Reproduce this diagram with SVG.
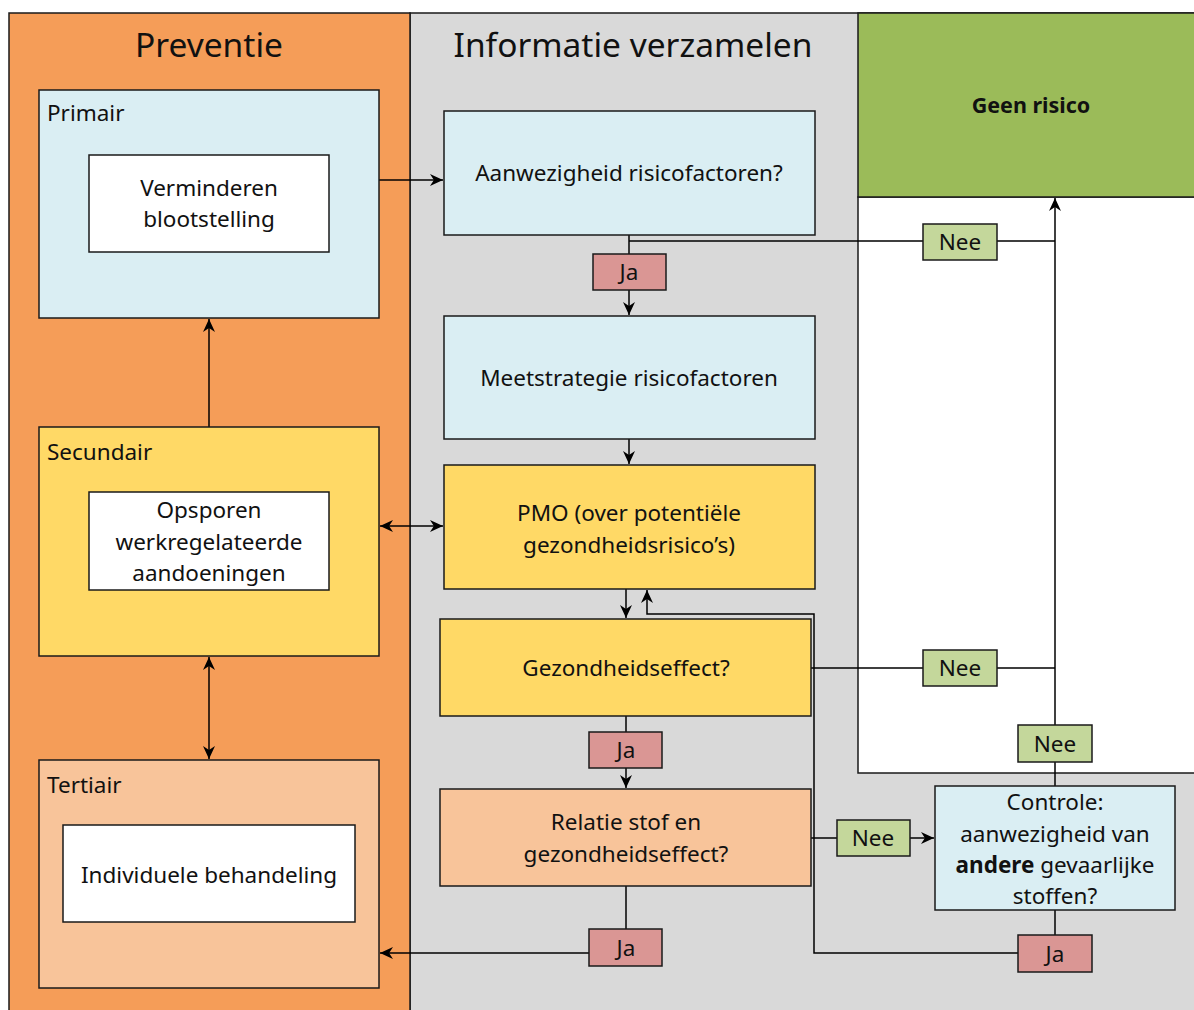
<svg xmlns="http://www.w3.org/2000/svg" width="1194" height="1010" viewBox="0 0 1194 1010">
<defs>
<marker id="ah" viewBox="0 0 10 10" refX="10" refY="5" markerWidth="13" markerHeight="12" markerUnits="userSpaceOnUse" orient="auto-start-reverse" preserveAspectRatio="none">
<path d="M0,0 L10,5 L0,10 L3,5 Z" fill="#000"/>
</marker>
<style>
text{font-family:"Noto Sans","Open Sans",sans-serif;fill:#111;text-anchor:middle;}
.box{stroke:#1a1a1a;stroke-width:1.5;}
.blue{fill:#DAEEF3;}
.yel{fill:#FFD966;}
.peach{fill:#F8C49A;}
.white{fill:#fff;}
.nee{fill:#C4D79B;stroke:#1a1a1a;stroke-width:1.5;}
.ja{fill:#DA9694;stroke:#1a1a1a;stroke-width:1.5;}
.t{font-size:22.5px;}
.lbl{font-size:22.5px;text-anchor:start;}
.title{font-size:33.5px;}
.con{fill:none;stroke:#000;stroke-width:1.5;}
.arr{marker-end:url(#ah);}
.both{marker-start:url(#ah);marker-end:url(#ah);}
</style>
</defs>
<rect x="0" y="0" width="1194" height="1010" fill="#fff"/>
<g id="lanes">
<rect x="410" y="13" width="800" height="1010" fill="#D9D9D9" stroke="#1a1a1a" stroke-width="1.5"/>
<rect x="9" y="13" width="401" height="1010" fill="#F59D58" stroke="#1a1a1a" stroke-width="1.5"/>
<rect x="858" y="197" width="350" height="576" fill="#fff" stroke="#1a1a1a" stroke-width="1.5"/>
<text class="title" x="209" y="57">Preventie</text>
<text class="title" x="633" y="57">Informatie verzamelen</text>
</g>
<g id="geen-risico">
<rect x="858" y="13" width="350" height="184" fill="#9BBB59" stroke="#1a1a1a" stroke-width="1.5"/>
<text x="1031" y="113" style="font-size:21.5px;font-weight:bold">Geen risico</text>
</g>
<g id="connectors">
<path class="con arr" d="M379,180 H443"/>
<path class="con arr" d="M209,427 V319"/>
<path class="con both" d="M380,526 H443"/>
<path class="con both" d="M209,657 V759"/>
<path class="con" d="M629,235 V254"/>
<path class="con arr" d="M629,290 V315"/>
<path class="con" d="M629,241 H923 M997,241 H1055"/>
<path class="con arr" d="M1055,786 V198"/>
<path class="con arr" d="M629,439 V464"/>
<path class="con arr" d="M626,589 V618"/>
<path class="con arr" d="M1018,953 H814 V614 H647 V590"/>
<path class="con" d="M811,668 H923 M997,668 H1055"/>
<path class="con" d="M626,716 V732"/>
<path class="con arr" d="M626,768 V788"/>
<path class="con" d="M811,838 H837"/>
<path class="con arr" d="M910,838 H934"/>
<path class="con" d="M1055,910 V935"/>
<path class="con" d="M626,886 V929"/>
<path class="con arr" d="M589,953 H380"/>
</g>
<g id="primair">
<rect class="box blue" x="39" y="90" width="340" height="228"/>
<text class="lbl" x="47" y="121">Primair</text>
<rect class="box white" x="89" y="155" width="240" height="97"/>
<text class="t" x="209" y="196">Verminderen</text>
<text class="t" x="209" y="227">blootstelling</text>
</g>
<g id="secundair">
<rect class="box yel" x="39" y="427" width="340" height="229"/>
<text class="lbl" x="47" y="460">Secundair</text>
<rect class="box white" x="89" y="492" width="240" height="98"/>
<text class="t" x="209" y="518">Opsporen</text>
<text class="t" x="209" y="550">werkregelateerde</text>
<text class="t" x="209" y="581">aandoeningen</text>
</g>
<g id="tertiair">
<rect class="box peach" x="39" y="760" width="340" height="228"/>
<text class="lbl" x="47" y="793">Tertiair</text>
<rect class="box white" x="63" y="825" width="292" height="97"/>
<text class="t" x="209" y="883">Individuele behandeling</text>
</g>
<g id="aanwezigheid">
<rect class="box blue" x="444" y="111" width="371" height="124"/>
<text class="t" x="629" y="181">Aanwezigheid risicofactoren?</text>
</g>
<g id="ja1">
<rect class="ja" x="593" y="254" width="73" height="36"/>
<text class="t" x="629" y="280">Ja</text>
</g>
<g id="nee1">
<rect class="nee" x="923" y="224" width="74" height="36"/>
<text class="t" x="960" y="250">Nee</text>
</g>
<g id="meetstrategie">
<rect class="box blue" x="444" y="316" width="371" height="123"/>
<text class="t" x="629" y="386">Meetstrategie risicofactoren</text>
</g>
<g id="pmo">
<rect class="box yel" x="444" y="465" width="371" height="124"/>
<text class="t" x="629" y="521">PMO (over potentiële</text>
<text class="t" x="629" y="553">gezondheidsrisico’s)</text>
</g>
<g id="gezondheidseffect">
<rect class="box yel" x="440" y="619" width="371" height="97"/>
<text class="t" x="626" y="676">Gezondheidseffect?</text>
</g>
<g id="nee2">
<rect class="nee" x="923" y="650" width="74" height="36"/>
<text class="t" x="960" y="676">Nee</text>
</g>
<g id="nee3">
<rect class="nee" x="1018" y="725" width="74" height="37"/>
<text class="t" x="1055" y="752">Nee</text>
</g>
<g id="ja2">
<rect class="ja" x="589" y="732" width="73" height="36"/>
<text class="t" x="626" y="758">Ja</text>
</g>
<g id="relatie">
<rect class="box peach" x="440" y="789" width="371" height="97"/>
<text class="t" x="626" y="830">Relatie stof en</text>
<text class="t" x="626" y="862">gezondheidseffect?</text>
</g>
<g id="nee4">
<rect class="nee" x="837" y="820" width="73" height="36"/>
<text class="t" x="873" y="846">Nee</text>
</g>
<g id="controle">
<rect class="box blue" x="935" y="786" width="240" height="124"/>
<text class="t" x="1055" y="810">Controle:</text>
<text class="t" x="1055" y="842">aanwezigheid van</text>
<text class="t" x="1055" y="873"><tspan font-weight="bold">andere</tspan> gevaarlijke</text>
<text class="t" x="1055" y="904">stoffen?</text>
</g>
<g id="ja3">
<rect class="ja" x="1018" y="935" width="74" height="37"/>
<text class="t" x="1055" y="962">Ja</text>
</g>
<g id="ja4">
<rect class="ja" x="589" y="929" width="73" height="37"/>
<text class="t" x="626" y="956">Ja</text>
</g>
</svg>
